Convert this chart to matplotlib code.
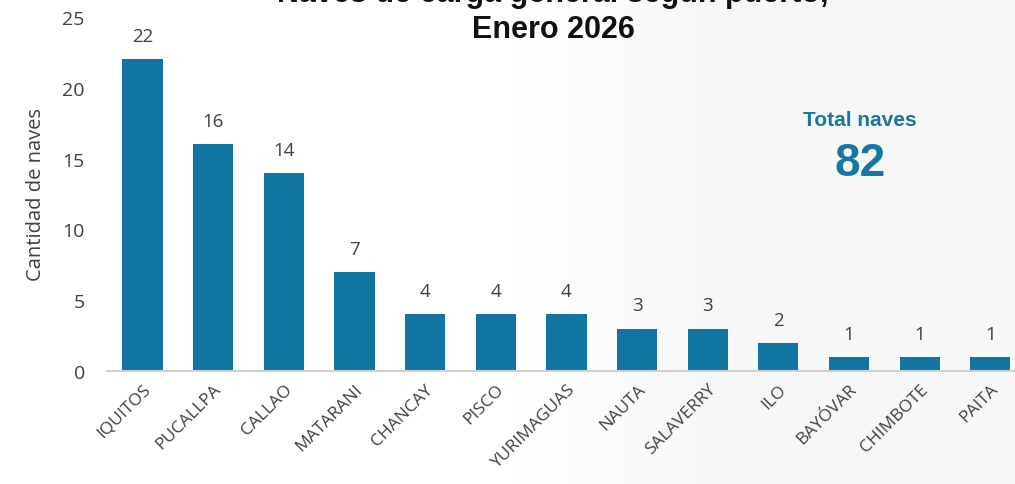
import matplotlib.pyplot as plt
import numpy as np

puertos = ["IQUITOS", "PUCALLPA", "CALLAO", "MATARANI", "CHANCAY", "PISCO",
           "YURIMAGUAS", "NAUTA", "SALAVERRY", "ILO", "BAYÓVAR", "CHIMBOTE", "PAITA"]
naves = [22, 16, 14, 7, 4, 4, 4, 3, 3, 2, 1, 1, 1]
total_naves = 82

bar_color = "#0E76A0"
text_gray = "#404040"

fig = plt.figure(figsize=(10.15, 4.85), dpi=100)

# faint light background on the right side
bg = fig.add_axes([0, 0, 1, 1], zorder=-10)
grad = np.clip((np.linspace(0, 1, 200) - 0.5) / 0.2, 0, 1)
bg.imshow(np.tile(grad, (10, 1)), cmap="Greys", vmin=0, vmax=16,
          aspect="auto", extent=[0, 1, 0, 1])
bg.axis("off")

ax = fig.add_axes([0.1055, 0.233, 0.905, 0.730])
ax.patch.set_alpha(0)
x = np.arange(len(puertos))
bars = ax.bar(x, naves, width=0.57, color=bar_color)
for xi, v in zip(x, naves):
    ax.text(xi, v + 1.0, str(v), ha="center", va="bottom", fontsize=13.5,
            color=text_gray, family="Open Sans")

ax.set_xlim(-0.5, len(puertos) - 0.5)
ax.set_ylim(0, 25)
ax.set_yticks([0, 5, 10, 15, 20, 25])
ax.set_xticks(x)
ax.set_xticklabels(puertos, rotation=45, ha="right", rotation_mode="anchor",
                   fontsize=12.5, color=text_gray, family="Open Sans")
ax.tick_params(axis="both", length=0)
ax.tick_params(axis="y", labelsize=14, labelcolor=text_gray, pad=16)
ax.tick_params(axis="x", pad=7)
for lbl in ax.get_yticklabels():
    lbl.set_family("Open Sans")
for s in ["top", "right", "left"]:
    ax.spines[s].set_visible(False)
ax.spines["bottom"].set_color("#d0d0d0")
ax.spines["bottom"].set_linewidth(1.5)
ax.set_ylabel("Cantidad de naves", fontsize=14.5, color=text_gray,
              family="Open Sans", labelpad=12)

fig.text(0.545, 0.975, "Naves de carga general según puerto,\nEnero 2026",
         ha="center", va="center", fontsize=22, fontweight="bold",
         family="Liberation Sans", color="#111111", linespacing=1.25)

fig.text(0.847, 0.752, "Total naves", ha="center", va="center", fontsize=15,
         fontweight="bold", color="#1478A0", family="Liberation Sans")
fig.text(0.847, 0.662, str(total_naves), ha="center", va="center", fontsize=33,
         fontweight="bold", color="#1478A0", family="Liberation Sans")

fig.savefig("out.png", dpi=100)
